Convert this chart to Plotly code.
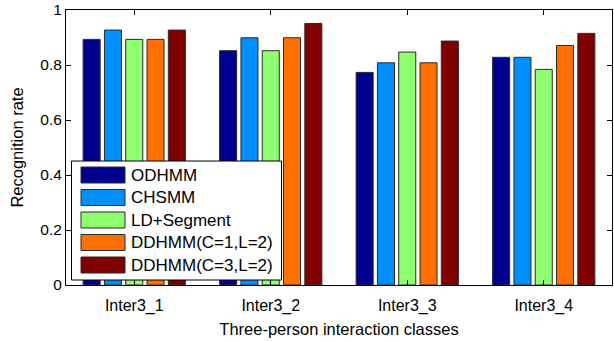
import plotly.graph_objects as go

categories = ["Inter3_1", "Inter3_2", "Inter3_3", "Inter3_4"]
series_names = ["ODHMM", "CHSMM", "LD+Segment", "DDHMM(C=1,L=2)", "DDHMM(C=3,L=2)"]
odhmm = [0.893, 0.852, 0.773, 0.828]
chsmm = [0.927, 0.899, 0.808, 0.828]
ld_segment = [0.893, 0.852, 0.847, 0.784]
ddhmm_c1 = [0.893, 0.899, 0.808, 0.871]
ddhmm_c3 = [0.927, 0.951, 0.887, 0.915]
series_values = [odhmm, chsmm, ld_segment, ddhmm_c1, ddhmm_c3]
colors = ["#00008F", "#008FFF", "#8FFF70", "#FF7000", "#800000"]
y_ticks = [0, 0.2, 0.4, 0.6, 0.8, 1]
y_tick_labels = ["0", "0.2", "0.4", "0.6", "0.8", "1"]

W, H = 614, 342
L, R, T, B = 66, 2, 10, 57
PW, PH = W - L - R, H - T - B

def px(x):
    return (x - L) / PW

def py(y):
    return (H - B - y) / PH

FONT = "Liberation Sans"

fig = go.Figure()
xs = list(range(1, len(categories) + 1))
for name, vals, c in zip(series_names, series_values, colors):
    fig.add_trace(go.Bar(x=xs, y=vals, name=name, marker=dict(color=c, line=dict(color="#2a2a2a", width=1)),
                         showlegend=False))

fig.update_layout(
    width=W, height=H,
    margin=dict(l=L, r=R, t=T, b=B),
    paper_bgcolor="white", plot_bgcolor="white",
    barmode="group", bargap=0.22, bargroupgap=0.2,
    font=dict(family=FONT, size=16, color="black"),
    showlegend=False,
)
fig.update_xaxes(range=[0.5, 4.5], tickvals=xs, ticktext=categories, ticks="inside", ticklen=5,
                 tickcolor="black", showline=True, linecolor="black", linewidth=1, mirror="ticks",
                 showgrid=False, zeroline=False, tickfont=dict(family=FONT, size=16), ticklabelstandoff=6,
                 title=dict(text="Three-person interaction classes", font=dict(family=FONT, size=16.5), standoff=9))
fig.update_yaxes(range=[0, 1], tickvals=y_ticks, ticktext=y_tick_labels, ticks="inside", ticklen=5,
                 tickcolor="black", showline=True, linecolor="black", linewidth=1, mirror="ticks",
                 showgrid=False, zeroline=False, tickfont=dict(family=FONT, size=15.5),
                 title=dict(text="Recognition rate", font=dict(family=FONT, size=16.5), standoff=12))

# custom legend box
shapes = [dict(type="rect", xref="paper", yref="paper", x0=px(71.5), x1=px(281.5), y0=py(280), y1=py(161),
               line=dict(color="black", width=1), fillcolor="white", layer="above")]
annotations = []
row_centers = [175, 197.5, 220, 242.5, 265]
for name, c, yc in zip(series_names, colors, row_centers):
    shapes.append(dict(type="rect", xref="paper", yref="paper", x0=px(81), x1=px(125), y0=py(yc + 8), y1=py(yc - 8),
                       line=dict(color="#2a2a2a", width=1), fillcolor=c, layer="above"))
    annotations.append(dict(xref="paper", yref="paper", x=px(129), y=py(yc), text=name, showarrow=False,
                            xanchor="left", yanchor="middle", font=dict(family=FONT, size=17, color="black")))
fig.update_layout(shapes=shapes, annotations=annotations)

fig.write_html("out.html")
